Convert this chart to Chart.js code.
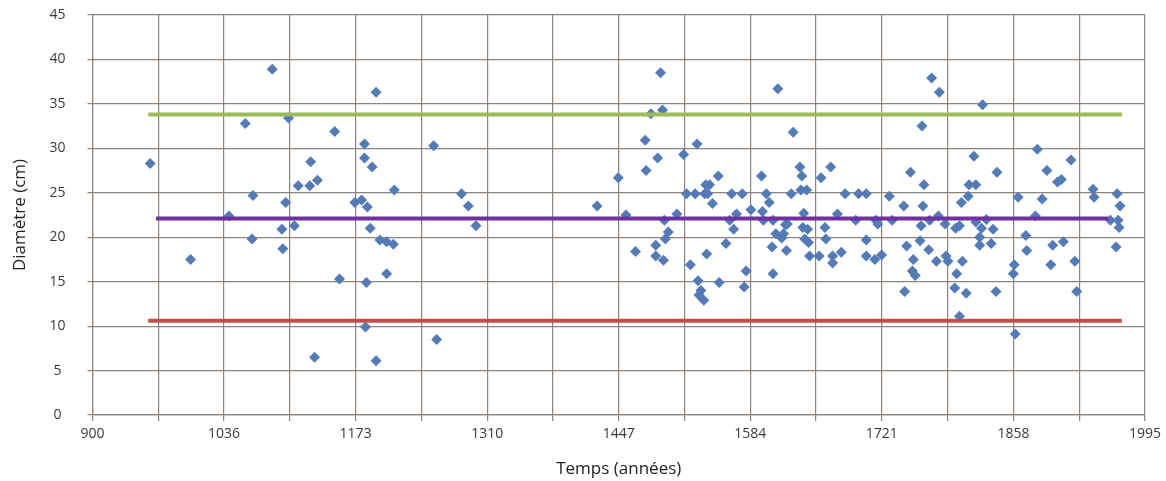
<!DOCTYPE html>
<html lang="fr">
<head>
    <meta charset="UTF-8">
    <title>Diamètre en fonction du temps</title>
    <script src="https://cdn.jsdelivr.net/npm/chart.js@4.4.1/dist/chart.umd.min.js"></script>
    <style>
        html, body { margin: 0; padding: 0; background: #fff; }
        .chart-box { position: relative; width: 1166px; height: 481px; }
    </style>
</head>
<body>
    <div class="chart-box">
        <canvas id="diamChart"></canvas>
    </div>

    <script>
        // --- data ---
        const years = [
            960, 1002, 1042, 1059, 1066, 1067, 1087, 1097, 1098, 1101, 1104, 1110, 1114, 1126, 1127, 1134, 1131,
            1152, 1157, 1173, 1180, 1183, 1183, 1185, 1184, 1186, 1189, 1191, 1195, 1195, 1199, 1206, 1213, 1206,
            1214, 1255, 1258, 1284, 1291, 1299, 1425,
            1447, 1455, 1465, 1475, 1476, 1481, 1486, 1486, 1488, 1491, 1493, 1494, 1495, 1496, 1499, 1508, 1515,
            1518, 1522, 1527, 1529, 1530, 1531, 1533, 1536, 1537, 1538, 1539, 1540, 1542, 1545, 1551, 1552, 1559,
            1563, 1565, 1567, 1570, 1576, 1578, 1580, 1585, 1596, 1597, 1598, 1601, 1604, 1607, 1608, 1608, 1611,
            1613, 1617, 1619, 1621, 1622, 1623, 1627, 1629, 1636, 1637, 1638, 1639, 1640, 1641, 1643, 1644, 1645,
            1646, 1656, 1658, 1662, 1663, 1668, 1670, 1670, 1675, 1679, 1683, 1694, 1697, 1705, 1705, 1705, 1714,
            1715, 1717, 1721, 1729, 1732, 1744, 1745, 1747, 1751, 1753, 1754, 1756, 1761, 1762, 1763, 1764, 1765,
            1770, 1771, 1773, 1778, 1780, 1781, 1787, 1788, 1790, 1797, 1798, 1799, 1802, 1802, 1804, 1805, 1809,
            1811, 1812, 1817, 1819, 1819, 1823, 1823, 1825, 1826, 1830, 1835, 1837, 1840, 1841, 1858, 1859, 1860,
            1863, 1871, 1872, 1881, 1883, 1888, 1893, 1897, 1899, 1904, 1908, 1910, 1918, 1922, 1924, 1941, 1942,
            1959, 1965, 1966, 1967, 1968, 1969
        ];
        const diameters = [
            28.3, 17.5, 22.4, 32.8, 19.8, 24.7, 38.9, 20.9, 18.7, 23.9, 33.4, 21.3, 25.8, 25.8, 28.5, 26.4, 6.5,
            31.9, 15.3, 23.9, 24.2, 30.5, 28.9, 14.9, 9.9, 23.4, 21.0, 27.9, 36.3, 6.1, 19.7, 19.5, 19.2, 15.9,
            25.3, 30.3, 8.5, 24.9, 23.5, 21.3, 23.5,
            26.7, 22.5, 18.4, 30.9, 27.5, 33.9, 19.1, 17.9, 28.9, 38.5, 34.3, 17.4, 21.9, 19.8, 20.6, 22.6, 29.3,
            24.9, 16.9, 24.9, 30.5, 15.1, 13.5, 14.0, 12.9, 24.9, 25.9, 18.1, 24.9, 25.9, 23.8, 26.9, 14.9, 19.3,
            21.9, 24.9, 20.9, 22.6, 24.9, 14.4, 16.2, 23.1, 26.9, 22.9, 21.9, 24.9, 23.9, 18.9, 21.9, 15.9, 20.4,
            36.7, 19.9, 20.4, 21.4, 18.5, 21.5, 24.9, 31.8, 27.9, 25.3, 26.9, 21.1, 22.7, 19.8, 25.3, 20.9, 19.4,
            17.9, 17.9, 26.7, 21.1, 19.8, 27.9, 17.9, 17.1, 22.6, 18.3, 24.9, 21.9, 24.9, 24.9, 19.7, 17.9, 17.5,
            21.9, 21.5, 18.0, 24.6, 21.9, 23.5, 13.9, 19.0, 27.3, 16.2, 17.5, 15.7, 19.6, 21.3, 32.5, 23.5, 25.9,
            18.6, 21.9, 37.9, 17.3, 22.4, 36.3, 21.5, 17.9, 17.3, 14.3, 21.0, 15.9, 21.3, 11.1, 23.9, 17.3, 13.7,
            24.6, 25.9, 29.1, 25.9, 21.7, 20.0, 19.1, 21.0, 34.9, 22.0, 19.3, 20.9, 13.9, 27.3, 15.9, 16.9, 9.1,
            24.5, 20.2, 18.5, 22.4, 29.9, 24.3, 27.5, 16.9, 19.1, 26.2, 26.5, 19.5, 28.7, 17.3, 13.9, 25.4, 24.5,
            21.9, 18.9, 24.9, 21.9, 21.1, 23.5
        ];

        // horizontal reference lines (upper limit, mean, lower limit)
        const levelValues = [33.8, 22.1, 10.6];
        const levelStart  = [958, 966, 958];
        const levelEnd    = [1971, 1957, 1971];
        const levelColors = ['#9bbb59', '#7030a0', '#c0504d'];

        // x axis: grid every 68.4375 years, label on every second line
        const xMin = 900, xMax = 1995, xGridCount = 16;
        const xTickLabels = ['900', '1036', '1173', '1310', '1447', '1584', '1721', '1858', '1995'];

        const gridColor = '#8d827c';
        const fontFamily = '"Open Sans", "Noto Sans", sans-serif';

        const points = years.map((yr, i) => ({ x: yr, y: diameters[i] }));

        const lineSets = levelValues.map((v, i) => ({
            type: 'line',
            data: [{ x: levelStart[i], y: v }, { x: levelEnd[i], y: v }],
            borderColor: levelColors[i],
            borderWidth: 4,
            pointRadius: 0,
            fill: false,
            order: 0
        }));

        const ctx = document.getElementById('diamChart').getContext('2d');
        new Chart(ctx, {
            type: 'scatter',
            data: {
                datasets: [{
                    data: points,
                    pointStyle: 'rectRot',
                    pointRadius: 5.5,
                    pointBorderWidth: 0,
                    backgroundColor: '#557bb6',
                    borderColor: '#557bb6',
                    order: 1
                }, ...lineSets]
            },
            options: {
                responsive: true,
                maintainAspectRatio: false,
                animation: false,
                layout: { padding: { left: 0, right: 20.3, top: 15, bottom: 0 } },
                plugins: {
                    legend: { display: false },
                    tooltip: { enabled: false }
                },
                scales: {
                    x: {
                        type: 'linear',
                        min: xMin,
                        max: xMax,
                        afterBuildTicks: (scale) => {
                            const step = (xMax - xMin) / xGridCount;
                            const t = [];
                            for (let i = 0; i <= xGridCount; i++) t.push({ value: xMin + i * step });
                            scale.ticks = t;
                        },
                        afterFit: (scale) => { scale.height = 66; },
                        grid: { color: gridColor, lineWidth: 1.2, tickLength: 6 },
                        border: { color: gridColor, width: 1.2 },
                        ticks: {
                            autoSkip: false,
                            maxRotation: 0,
                            padding: 5,
                            color: '#3a3a3a',
                            font: { family: fontFamily, size: 14 },
                            callback: (value, index) => index % 2 === 0 ? xTickLabels[index / 2] : ''
                        },
                        title: {
                            display: true,
                            text: 'Temps (années)',
                            color: '#222',
                            font: { family: fontFamily, size: 17 },
                            padding: { top: 0, bottom: 2 }
                        }
                    },
                    y: {
                        min: 0,
                        max: 45,
                        afterFit: (scale) => {
                            // fixed axis width; tick padding must not push the plot down
                            scale.width = 92.5;
                            scale.paddingTop = 0;
                            scale.paddingBottom = 0;
                        },
                        grid: { color: gridColor, lineWidth: 1.2, tickLength: 5 },
                        border: { color: gridColor, width: 1.2 },
                        ticks: {
                            stepSize: 5,
                            padding: 22,
                            crossAlign: 'center',
                            color: '#3a3a3a',
                            font: { family: fontFamily, size: 14 }
                        },
                        title: {
                            display: true,
                            text: 'Diamètre (cm)',
                            color: '#222',
                            font: { family: fontFamily, size: 17 },
                            padding: { top: 10, bottom: 0 }
                        }
                    }
                }
            }
        });
    </script>
</body>
</html>
